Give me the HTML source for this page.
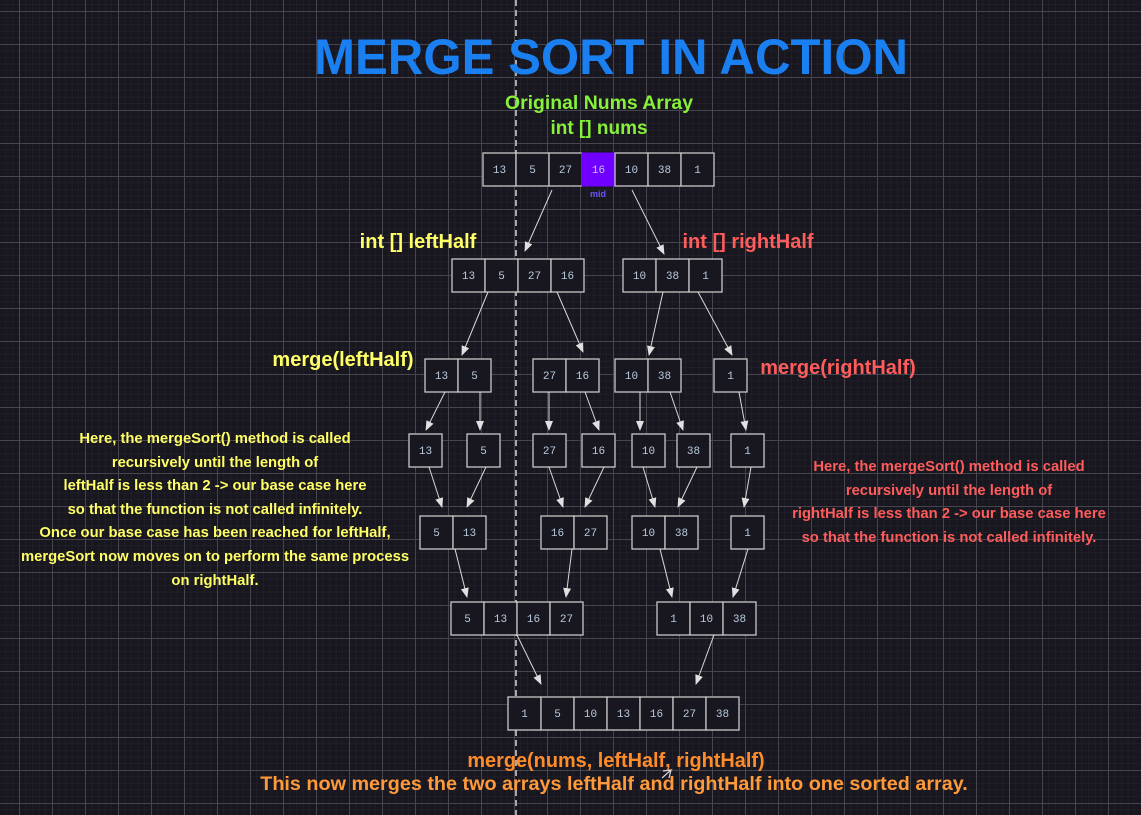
<!DOCTYPE html>
<html><head><meta charset="utf-8"><style>
html,body{margin:0;padding:0;background:#18161e;}
svg{display:block}
.c{fill:#18161e;stroke:#c8c8c8;stroke-width:1.3}
.n{font-family:"Liberation Mono",monospace;font-size:11px;fill:#b8cce0;text-anchor:middle}
.a{stroke:#d8d8d8;stroke-width:1;fill:none;marker-end:url(#ah)}
.t{font-family:"Liberation Sans",sans-serif;font-weight:bold;text-anchor:middle}
</style></head><body>
<svg width="1141" height="815" xmlns="http://www.w3.org/2000/svg">
<defs>
<pattern id="minor" width="6.6" height="6.6" patternUnits="userSpaceOnUse" x="19" y="11"><path d="M0 0H6.6M0 0V6.6" stroke="#26242d" stroke-width="1"/></pattern>
<pattern id="major" width="33" height="33" patternUnits="userSpaceOnUse" x="19" y="11"><path d="M0 0.5H33M0.5 0V33" stroke="#46444c" stroke-width="1"/></pattern>
<marker id="ah" markerWidth="10" markerHeight="10" refX="9" refY="5" orient="auto" markerUnits="userSpaceOnUse"><path d="M0 1L10 5L0 9z" fill="#e0e0e0"/></marker>
</defs>
<rect width="1141" height="815" fill="#18161e"/>
<rect width="1141" height="815" fill="url(#minor)"/>
<rect width="1141" height="815" fill="url(#major)"/>
<line x1="516" y1="0" x2="516" y2="815" stroke="#a8a8a8" stroke-width="2" stroke-dasharray="6,4"/>

<text class="t" x="611" y="74" font-size="50" fill="#1a7ff0" textLength="594" lengthAdjust="spacingAndGlyphs">MERGE SORT IN ACTION</text>
<text class="t" x="599" y="109" font-size="19" fill="#86f03a" textLength="188" lengthAdjust="spacingAndGlyphs">Original Nums Array</text>
<text class="t" x="599" y="134" font-size="19" fill="#86f03a">int [] nums</text>

<g>
<rect class="c" x="483" y="153" width="33" height="33"/><text class="n" x="499.5" y="173">13</text>
<rect class="c" x="516" y="153" width="33" height="33"/><text class="n" x="532.5" y="173">5</text>
<rect class="c" x="549" y="153" width="33" height="33"/><text class="n" x="565.5" y="173">27</text>
<rect x="582" y="153" width="33" height="33" fill="#7000ff" stroke="#7000ff"/><text class="n" x="598.5" y="173">16</text>
<rect class="c" x="615" y="153" width="33" height="33"/><text class="n" x="631.5" y="173">10</text>
<rect class="c" x="648" y="153" width="33" height="33"/><text class="n" x="664.5" y="173">38</text>
<rect class="c" x="681" y="153" width="33" height="33"/><text class="n" x="697.5" y="173">1</text>
<text class="t" x="598" y="197" font-size="9" fill="#6a55ff">mid</text>
</g>

<text class="t" x="418" y="248" font-size="20" fill="#ffff66">int [] leftHalf</text>
<text class="t" x="748" y="248" font-size="20" fill="#ff5c5c">int [] rightHalf</text>

<rect class="c" x="452" y="259" width="33" height="33"/><text class="n" x="468.5" y="279">13</text>
<rect class="c" x="485" y="259" width="33" height="33"/><text class="n" x="501.5" y="279">5</text>
<rect class="c" x="518" y="259" width="33" height="33"/><text class="n" x="534.5" y="279">27</text>
<rect class="c" x="551" y="259" width="33" height="33"/><text class="n" x="567.5" y="279">16</text>
<rect class="c" x="623" y="259" width="33" height="33"/><text class="n" x="639.5" y="279">10</text>
<rect class="c" x="656" y="259" width="33" height="33"/><text class="n" x="672.5" y="279">38</text>
<rect class="c" x="689" y="259" width="33" height="33"/><text class="n" x="705.5" y="279">1</text>

<text class="t" x="343" y="366" font-size="20" fill="#ffff66">merge(leftHalf)</text>
<text class="t" x="838" y="374" font-size="20" fill="#ff5c5c">merge(rightHalf)</text>

<rect class="c" x="425" y="359" width="33" height="33"/><text class="n" x="441.5" y="379">13</text>
<rect class="c" x="458" y="359" width="33" height="33"/><text class="n" x="474.5" y="379">5</text>
<rect class="c" x="533" y="359" width="33" height="33"/><text class="n" x="549.5" y="379">27</text>
<rect class="c" x="566" y="359" width="33" height="33"/><text class="n" x="582.5" y="379">16</text>
<rect class="c" x="615" y="359" width="33" height="33"/><text class="n" x="631.5" y="379">10</text>
<rect class="c" x="648" y="359" width="33" height="33"/><text class="n" x="664.5" y="379">38</text>
<rect class="c" x="714" y="359" width="33" height="33"/><text class="n" x="730.5" y="379">1</text>

<rect class="c" x="409" y="434" width="33" height="33"/><text class="n" x="425.5" y="454">13</text>
<rect class="c" x="467" y="434" width="33" height="33"/><text class="n" x="483.5" y="454">5</text>
<rect class="c" x="533" y="434" width="33" height="33"/><text class="n" x="549.5" y="454">27</text>
<rect class="c" x="582" y="434" width="33" height="33"/><text class="n" x="598.5" y="454">16</text>
<rect class="c" x="632" y="434" width="33" height="33"/><text class="n" x="648.5" y="454">10</text>
<rect class="c" x="677" y="434" width="33" height="33"/><text class="n" x="693.5" y="454">38</text>
<rect class="c" x="731" y="434" width="33" height="33"/><text class="n" x="747.5" y="454">1</text>

<rect class="c" x="420" y="516" width="33" height="33"/><text class="n" x="436.5" y="536">5</text>
<rect class="c" x="453" y="516" width="33" height="33"/><text class="n" x="469.5" y="536">13</text>
<rect class="c" x="541" y="516" width="33" height="33"/><text class="n" x="557.5" y="536">16</text>
<rect class="c" x="574" y="516" width="33" height="33"/><text class="n" x="590.5" y="536">27</text>
<rect class="c" x="632" y="516" width="33" height="33"/><text class="n" x="648.5" y="536">10</text>
<rect class="c" x="665" y="516" width="33" height="33"/><text class="n" x="681.5" y="536">38</text>
<rect class="c" x="731" y="516" width="33" height="33"/><text class="n" x="747.5" y="536">1</text>

<rect class="c" x="451" y="602" width="33" height="33"/><text class="n" x="467.5" y="622">5</text>
<rect class="c" x="484" y="602" width="33" height="33"/><text class="n" x="500.5" y="622">13</text>
<rect class="c" x="517" y="602" width="33" height="33"/><text class="n" x="533.5" y="622">16</text>
<rect class="c" x="550" y="602" width="33" height="33"/><text class="n" x="566.5" y="622">27</text>
<rect class="c" x="657" y="602" width="33" height="33"/><text class="n" x="673.5" y="622">1</text>
<rect class="c" x="690" y="602" width="33" height="33"/><text class="n" x="706.5" y="622">10</text>
<rect class="c" x="723" y="602" width="33" height="33"/><text class="n" x="739.5" y="622">38</text>

<rect class="c" x="508" y="697" width="33" height="33"/><text class="n" x="524.5" y="717">1</text>
<rect class="c" x="541" y="697" width="33" height="33"/><text class="n" x="557.5" y="717">5</text>
<rect class="c" x="574" y="697" width="33" height="33"/><text class="n" x="590.5" y="717">10</text>
<rect class="c" x="607" y="697" width="33" height="33"/><text class="n" x="623.5" y="717">13</text>
<rect class="c" x="640" y="697" width="33" height="33"/><text class="n" x="656.5" y="717">16</text>
<rect class="c" x="673" y="697" width="33" height="33"/><text class="n" x="689.5" y="717">27</text>
<rect class="c" x="706" y="697" width="33" height="33"/><text class="n" x="722.5" y="717">38</text>

<path class="a" d="M552 190L525 251"/>
<path class="a" d="M632 190L664 254"/>
<path class="a" d="M488 292L462 355"/>
<path class="a" d="M557 292L583 352"/>
<path class="a" d="M663 292L649 355"/>
<path class="a" d="M698 292L732 355"/>
<path class="a" d="M445 392L426 430"/>
<path class="a" d="M480 392L480 430"/>
<path class="a" d="M549 392L549 430"/>
<path class="a" d="M585 392L599 430"/>
<path class="a" d="M640 392L640 430"/>
<path class="a" d="M670 392L683 430"/>
<path class="a" d="M739 392L746 430"/>
<path class="a" d="M429 467L442 507"/>
<path class="a" d="M486 467L467 507"/>
<path class="a" d="M549 467L563 507"/>
<path class="a" d="M604 467L585 507"/>
<path class="a" d="M643 467L655 507"/>
<path class="a" d="M697 467L678 507"/>
<path class="a" d="M751 467L744 507"/>
<path class="a" d="M455 549L467 597"/>
<path class="a" d="M572 549L566 597"/>
<path class="a" d="M660 549L672 597"/>
<path class="a" d="M748 549L733 597"/>
<path class="a" d="M517 635L541 684"/>
<path class="a" d="M714 635L696 684"/>
<path d="M662 778L671 770L663 771M671 770L669 778" stroke="#d8d8d8" stroke-width="1.2" fill="none"/>

<g class="t" font-size="14.8" fill="#ffff66">
<text x="215" y="443">Here, the mergeSort() method is called</text>
<text x="215" y="467">recursively until the length of</text>
<text x="215" y="490">leftHalf is less than 2 -&gt; our base case here</text>
<text x="215" y="514">so that the function is not called infinitely.</text>
<text x="215" y="537">Once our base case has been reached for leftHalf,</text>
<text x="215" y="561">mergeSort now moves on to perform the same process</text>
<text x="215" y="585">on rightHalf.</text>
</g>
<g class="t" font-size="14.8" fill="#ff5c5c">
<text x="949" y="471">Here, the mergeSort() method is called</text>
<text x="949" y="495">recursively until the length of</text>
<text x="949" y="518">rightHalf is less than 2 -&gt; our base case here</text>
<text x="949" y="542">so that the function is not called infinitely.</text>
</g>

<text class="t" x="616" y="767" font-size="19.9" fill="#ff8c2a">merge(nums, leftHalf, rightHalf)</text>
<text class="t" x="614" y="790" font-size="19.8" fill="#ff9a3a">This now merges the two arrays leftHalf and rightHalf into one sorted array.</text>
</svg>
</body></html>
